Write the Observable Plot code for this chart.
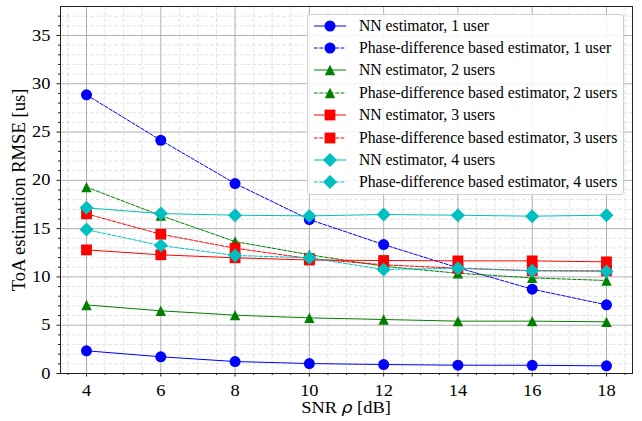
<!DOCTYPE html>
<html>
<head>
<meta charset="utf-8">
<script src="https://cdn.jsdelivr.net/npm/d3@7"></script>
<script src="https://cdn.jsdelivr.net/npm/@observablehq/plot@0.6"></script>
<style>
  html, body { margin: 0; padding: 0; background: #fff; }
  #wrap { position: relative; width: 642px; height: 421px; font-family: "Liberation Serif", "Times New Roman", serif; color: #000; }
  #wrap svg.plot { position: absolute; left: 0; top: 0; }
  #wrap svg text { font-family: "Liberation Serif", "Times New Roman", serif; }
  .xlabel { position: absolute; left: 60px; width: 572px; top: 398px; line-height: 20px; text-align: center; font-size: 16px; font-family: "Liberation Serif", serif; }
  .xlabel span.inner { display: inline-block; transform: scaleX(1.15); transform-origin: 50% 50%; }
  .ylabel { position: absolute; left: 18px; top: 190px; line-height: 21px; transform: translate(-50%, -50%) rotate(-90deg); white-space: nowrap; font-size: 18.6px; font-family: "Liberation Serif", serif; }
  .legend { position: absolute; left: 307px; top: 14px; width: 317px; height: 181px; border: 1px solid #d0d0d0; border-radius: 3px; background: rgba(255,255,255,0.85); box-sizing: border-box; }
  .legend .row { position: absolute; left: 5px; height: 20px; display: flex; align-items: center; font-size: 15.7px; white-space: nowrap; font-family: "Liberation Serif", serif; }
  .legend .row svg { margin-right: 12px; }
</style>
</head>
<body>
<div id="wrap"></div>
<script>
// ---- data ----
const snr = [4, 6, 8, 10, 12, 14, 16, 18];
const nn1 = [2.35, 1.73, 1.24, 1.03, 0.93, 0.86, 0.85, 0.79];
const pd1 = [28.85, 24.15, 19.67, 15.94, 13.35, 10.95, 8.73, 7.11];
const nn2 = [7.1, 6.49, 6.04, 5.76, 5.59, 5.42, 5.42, 5.35];
const pd2 = [19.3, 16.35, 13.66, 12.3, 11.1, 10.38, 9.9, 9.63];
const nn3 = [12.8, 12.29, 11.98, 11.75, 11.7, 11.66, 11.66, 11.56];
const pd3 = [16.53, 14.42, 12.97, 11.9, 11.25, 10.9, 10.65, 10.63];
const nn4 = [17.15, 16.56, 16.39, 16.32, 16.46, 16.39, 16.29, 16.39];
const pd4 = [14.9, 13.25, 12.22, 11.98, 10.77, 10.9, 10.63, 10.56];
const seriesNames = [
  "NN estimator, 1 user",
  "Phase-difference based estimator, 1 user",
  "NN estimator, 2 users",
  "Phase-difference based estimator, 2 users",
  "NN estimator, 3 users",
  "Phase-difference based estimator, 3 users",
  "NN estimator, 4 users",
  "Phase-difference based estimator, 4 users"
];
const seriesValues = [nn1, pd1, nn2, pd2, nn3, pd3, nn4, pd4];
const xTicks = [4, 6, 8, 10, 12, 14, 16, 18];
const yTicks = [0, 5, 10, 15, 20, 25, 30, 35];

// ---- styles ----
const FONT = "Liberation Serif";
const triangleSym = {draw(c, size) { const a = Math.sqrt(size / Math.PI); c.moveTo(0, -a); c.lineTo(a, a); c.lineTo(-a, a); c.closePath(); }};
const squareSym = {draw(c, size) { const a = Math.sqrt(size / Math.PI); c.moveTo(-a, -a); c.lineTo(a, -a); c.lineTo(a, a); c.lineTo(-a, a); c.closePath(); }};
const diamondSym = {draw(c, size) { const a = Math.sqrt(size / Math.PI); c.moveTo(0, -a); c.lineTo(a, 0); c.lineTo(0, a); c.lineTo(-a, 0); c.closePath(); }};
const colors = ["#0000ff", "#0000ff", "#008000", "#008000", "#ff0000", "#ff0000", "#00bfbf", "#00bfbf"];
const symbols = ["circle", "circle", triangleSym, triangleSym, squareSym, squareSym, diamondSym, diamondSym];
const radii = [5.5, 5.5, 5.2, 5.2, 5.4, 5.4, 7, 7];
const dashed = [false, true, false, true, false, true, false, true];

const rows = seriesValues.map((vals, k) => snr.map((s, i) => ({snr: s, v: vals[i], k})));

const xMinor = d3.range(3.5, 18.7, 0.5).filter(d => !xTicks.includes(d));
const yMinor = d3.range(0, 38, 1).filter(d => !yTicks.includes(d));

const marks = [
  Plot.gridX(xMinor, {stroke: "#dcdcdc", strokeOpacity: 1, strokeDasharray: "4,2", strokeWidth: 0.8}),
  Plot.gridY(yMinor, {stroke: "#dcdcdc", strokeOpacity: 1, strokeDasharray: "4,2", strokeWidth: 0.8}),
  Plot.gridX(xTicks, {stroke: "#b0b0b0", strokeOpacity: 1, strokeWidth: 1}),
  Plot.gridY(yTicks, {stroke: "#b0b0b0", strokeOpacity: 1, strokeWidth: 1}),
  Plot.axisX(xMinor, {tickSize: 2, text: null, label: null, stroke: "#222"}),
  Plot.axisY(yMinor, {tickSize: 2, text: null, label: null, stroke: "#222"}),
  Plot.axisX(xTicks, {tickSize: 3.5, tickPadding: 7.5, stroke: "#222", fill: "#000", fontSize: 16, fontFamily: FONT, label: null}),
  Plot.axisY(yTicks, {tickSize: 3.5, tickPadding: 6.5, stroke: "#222", fill: "#000", fontSize: 16, fontFamily: FONT, label: null})
];
rows.forEach((data, k) => {
  marks.push(Plot.line(data, {x: "snr", y: "v", stroke: colors[k], strokeWidth: 1, strokeDasharray: dashed[k] ? "3.7,1.6" : null}));
  marks.push(Plot.dot(data, {x: "snr", y: "v", fill: colors[k], stroke: "none", r: radii[k], symbol: symbols[k]}));
});
marks.push(Plot.frame({stroke: "#222", strokeWidth: 1}));

const chart = Plot.plot({
  width: 642, height: 421,
  marginLeft: 60, marginRight: 10, marginTop: 6, marginBottom: 48,
  style: {fontFamily: FONT, fontSize: "16px", color: "#000", background: "transparent"},
  x: {domain: [3.3, 18.7]},
  y: {domain: [0, 38]},
  marks
});
chart.classList.add("plot");
const wrap = document.getElementById("wrap");
wrap.appendChild(chart);

// widen tick labels slightly to match the reference's wide glyphs
chart.querySelectorAll('g[aria-label="x-axis tick label"] text, g[aria-label="y-axis tick label"] text').forEach(t => {
  const L = t.getComputedTextLength();
  if (L > 0) { t.setAttribute("textLength", (L * 1.15).toFixed(2)); t.setAttribute("lengthAdjust", "spacingAndGlyphs"); }
});

const xl = document.createElement("div");
xl.className = "xlabel";
xl.innerHTML = '<span class="inner">SNR <span style="font-family:\'DejaVu Sans\';font-style:italic;font-size:15px">ρ</span> [dB]</span>';
wrap.appendChild(xl);
const yl = document.createElement("div");
yl.className = "ylabel";
yl.textContent = "ToA estimation RMSE [us]";
wrap.appendChild(yl);

// legend
const leg = document.createElement("div");
leg.className = "legend";
seriesNames.forEach((name, k) => {
  const row = document.createElement("div");
  row.className = "row";
  row.style.top = (0.7 + k * 22.37) + "px";
  const s = d3.create("svg").attr("width", 34).attr("height", 16);
  s.append("line").attr("x1", 1).attr("x2", 33).attr("y1", 8).attr("y2", 8)
    .attr("stroke", colors[k]).attr("stroke-width", 1)
    .attr("stroke-dasharray", dashed[k] ? "3.7,1.6" : null);
  const p = d3.path();
  const r = radii[k];
  if (symbols[k] === "circle") s.append("circle").attr("cx", 17).attr("cy", 8).attr("r", r).attr("fill", colors[k]);
  else { symbols[k].draw(p, r * r * Math.PI); s.append("path").attr("d", p.toString()).attr("transform", "translate(17,8)").attr("fill", colors[k]); }
  row.appendChild(s.node());
  const t = document.createElement("span");
  t.textContent = name;
  row.appendChild(t);
  leg.appendChild(row);
});
wrap.appendChild(leg);
</script>
</body>
</html>
